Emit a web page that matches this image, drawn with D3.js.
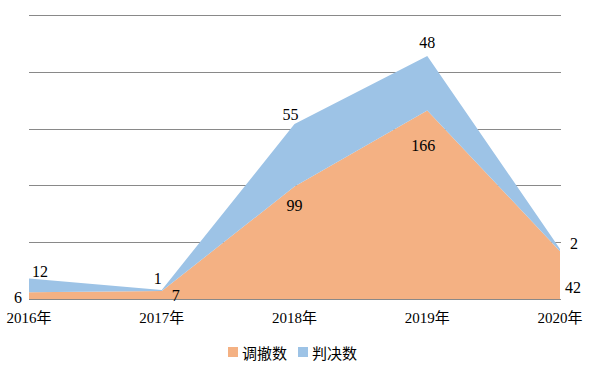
<!DOCTYPE html>
<html>
<head>
<meta charset="utf-8">
<script src="https://cdn.jsdelivr.net/npm/d3@7"></script>
<style>
  body{margin:0;background:#fff;}
  svg{display:block;}
</style>
</head>
<body>
<svg id="chart"></svg>
<script>
const years=["2016年","2017年","2018年","2019年","2020年"];
const withdrawn=[6,7,99,166,42];
const judged=[12,1,55,48,2];
const seriesNames=["调撤数","判决数"];
const yTicks=[0,50,100,150,200,250];

const width=589,height=375;
const colors=["#F4B183","#9DC3E6"];
// label nudges (px) for each point, orange then blue
const offOrange=[[-11,5],[14,4],[0,19],[-4,35],[13,36]];
const offBlue=[[11,-7],[-4,-11],[-4,-10],[0,-13],[14,-6]];

let svg=d3.select("#chart").attr("width",width).attr("height",height)

const x=d3.scalePoint().domain(years).range([29,560])
const y=d3.scaleLinear().domain([0,250]).range([299,15])

const rows=years.map((yr,i)=>({year:yr,a:withdrawn[i],b:judged[i]}))
const stack=d3.stack().keys(["a","b"])(rows)

// gridlines
svg.append("g").selectAll("line").data(yTicks).join("line")
  .attr("x1",29).attr("x2",561)
  .attr("y1",d=>Math.round(y(d))+0.5).attr("y2",d=>Math.round(y(d))+0.5)
  .attr("stroke","#898989").attr("stroke-width",1.2)

const area=d3.area()
  .x(d=>x(d.data.year))
  .y0(d=>y(d[0]))
  .y1(d=>y(d[1]))

svg.append("g").selectAll("path").data(stack).join("path")
  .attr("d",area)
  .attr("fill",(d,i)=>colors[i])

// baseline on top of areas
svg.append("line")
  .attr("x1",29).attr("x2",561)
  .attr("y1",Math.round(y(0))+0.5).attr("y2",Math.round(y(0))+0.5)
  .attr("stroke","#898989").attr("stroke-width",1.2)

const serif="'Liberation Serif','Times New Roman','Noto Sans CJK SC',serif"

// data labels
const labels=svg.append("g").attr("font-family",serif).attr("font-size",16).attr("fill","#000")
  .attr("text-anchor","middle").attr("dominant-baseline","central")
stack[0].forEach((d,i)=>{
  labels.append("text")
    .attr("x",x(d.data.year)+offOrange[i][0])
    .attr("y",y(d[1])+offOrange[i][1])
    .text(withdrawn[i])
})
stack[1].forEach((d,i)=>{
  labels.append("text")
    .attr("x",x(d.data.year)+offBlue[i][0])
    .attr("y",y(d[1])+offBlue[i][1])
    .text(judged[i])
})

// x axis labels
svg.append("g").selectAll("text").data(years).join("text")
  .attr("x",d=>x(d)).attr("y",318)
  .attr("text-anchor","middle").attr("dominant-baseline","central")
  .attr("font-family",serif).attr("font-size",15)
  .text(d=>d)

// legend
const legend=svg.append("g").attr("font-family","'Noto Sans CJK SC',sans-serif").attr("font-size",15)
const legX=[228,298]
seriesNames.forEach((n,i)=>{
  legend.append("rect").attr("x",legX[i]).attr("y",347).attr("width",10).attr("height",10).attr("fill",colors[i])
  legend.append("text").attr("x",legX[i]+14).attr("y",352).attr("dominant-baseline","central").text(n)
})
</script>
</body>
</html>
